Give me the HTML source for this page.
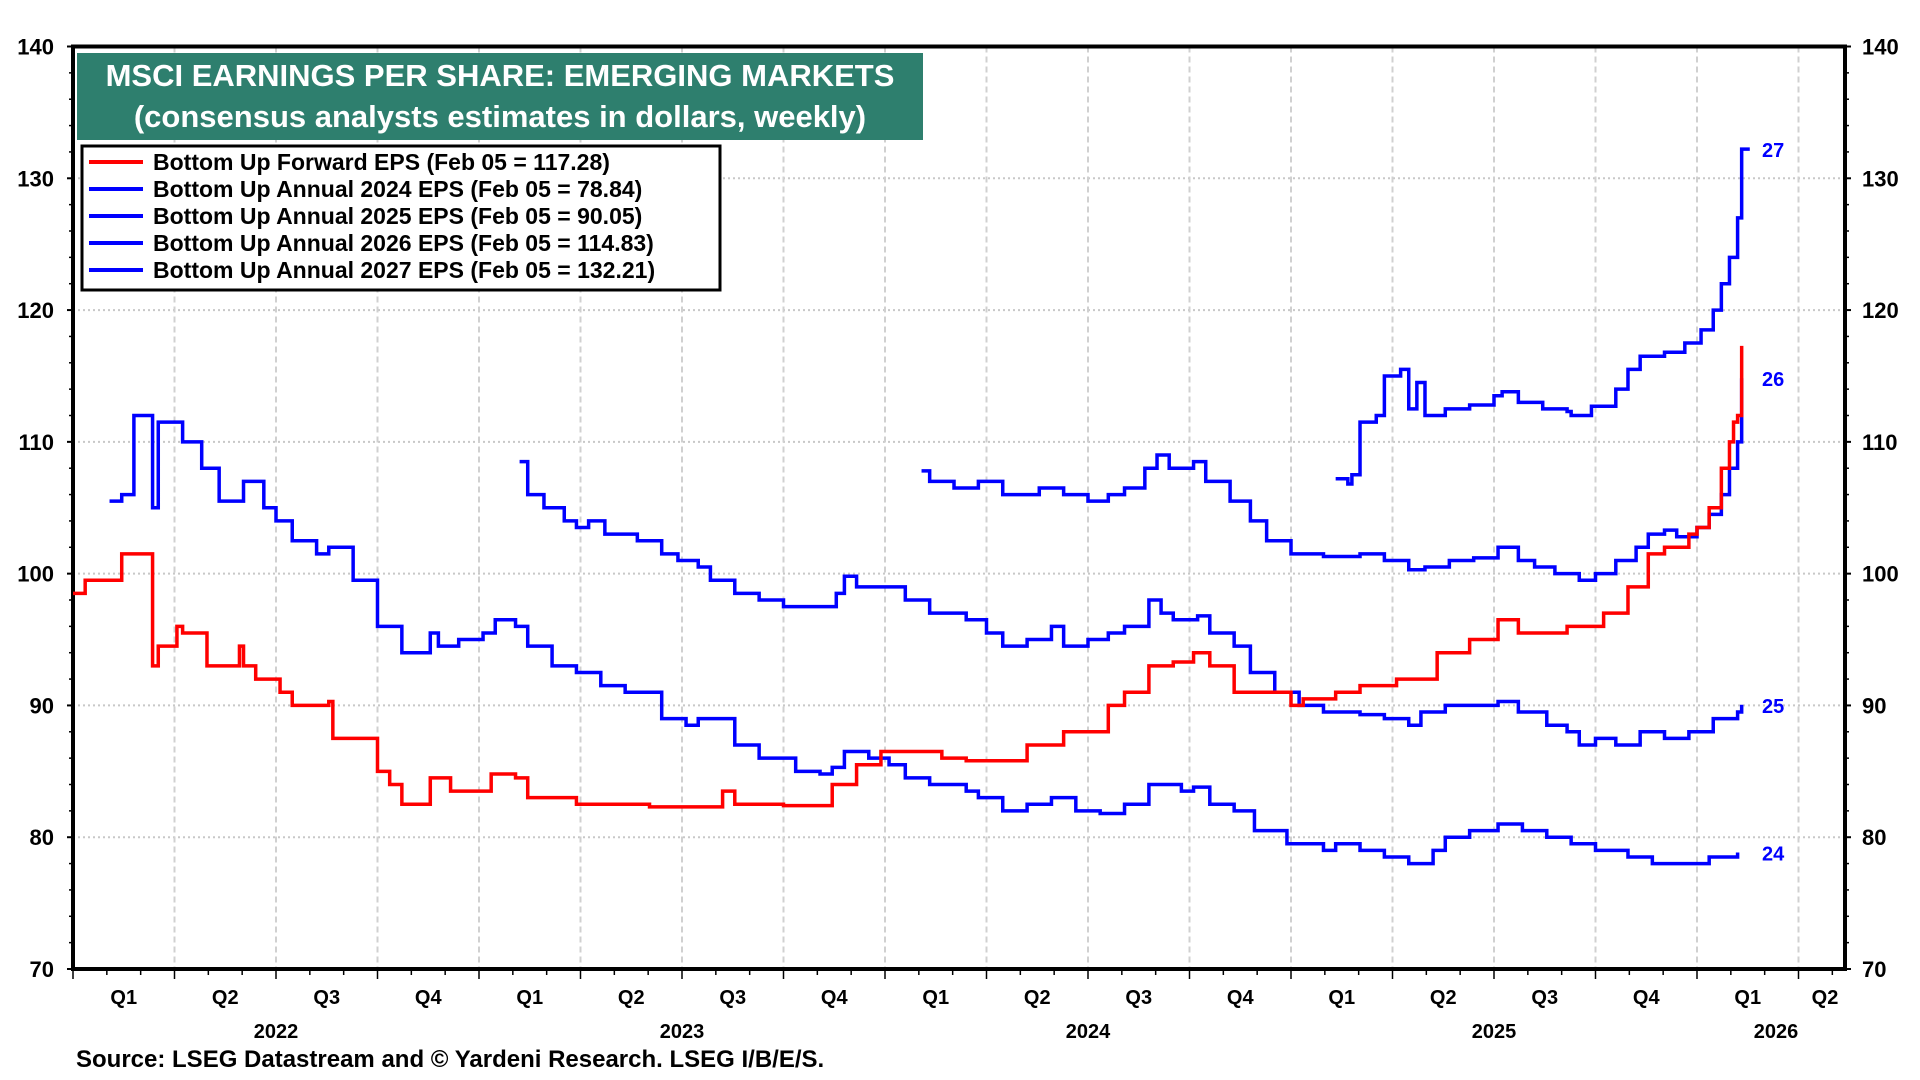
<!DOCTYPE html>
<html><head><meta charset="utf-8"><style>
body{margin:0;background:#fff;}
svg{display:block;font-family:"Liberation Sans",Arial,sans-serif;font-weight:bold;}
</style></head><body>
<svg id="chart" width="1920" height="1080" viewBox="0 0 1920 1080">
<g id="grid"></g>
<g id="axes"></g>
<g id="series"></g>
<g id="labels"></g>
<g>
<rect x="77" y="53" width="846" height="87" fill="#2e7f6e"/>
<text x="500" y="86" text-anchor="middle" font-size="31" fill="#fff">MSCI EARNINGS PER SHARE: EMERGING MARKETS</text>
<text x="500" y="127" text-anchor="middle" font-size="31" fill="#fff">(consensus analysts estimates in dollars, weekly)</text>
</g>
<g>
<rect x="82" y="146" width="638" height="144" fill="#fff" stroke="#000" stroke-width="3"/>
<g><line x1="89" y1="162" x2="143" y2="162" stroke="#ff0000" stroke-width="4"/><text x="153" y="170" font-size="23">Bottom Up Forward EPS (Feb 05 = 117.28)</text></g>
<g><line x1="89" y1="189" x2="143" y2="189" stroke="#0000ff" stroke-width="4"/><text x="153" y="197" font-size="23">Bottom Up Annual 2024 EPS (Feb 05 = 78.84)</text></g>
<g><line x1="89" y1="216" x2="143" y2="216" stroke="#0000ff" stroke-width="4"/><text x="153" y="224" font-size="23">Bottom Up Annual 2025 EPS (Feb 05 = 90.05)</text></g>
<g><line x1="89" y1="243" x2="143" y2="243" stroke="#0000ff" stroke-width="4"/><text x="153" y="251" font-size="23">Bottom Up Annual 2026 EPS (Feb 05 = 114.83)</text></g>
<g><line x1="89" y1="270" x2="143" y2="270" stroke="#0000ff" stroke-width="4"/><text x="153" y="278" font-size="23">Bottom Up Annual 2027 EPS (Feb 05 = 132.21)</text></g>
</g>
<text x="76" y="1067" font-size="24">Source: LSEG Datastream and © Yardeni Research. LSEG I/B/E/S.</text>
</svg>
<script>
const yTicks=[70,80,90,100,110,120,130,140];
const quarterLabels=["Q1","Q2","Q3","Q4"];
const years=[2022,2023,2024,2025,2026];

const fwdT=[2022.0,2022.03,2022.12,2022.18,2022.196,2022.21,2022.256,2022.27,2022.33,2022.41,2022.42,2022.45,2022.51,2022.54,2022.63,2022.64,2022.69,2022.75,2022.78,2022.81,2022.88,2022.93,2023.03,2023.04,2023.09,2023.12,2023.15,2023.24,2023.30,2023.42,2023.45,2023.60,2023.63,2023.75,2023.76,2023.87,2023.93,2023.99,2024.05,2024.14,2024.20,2024.32,2024.35,2024.44,2024.50,2024.55,2024.59,2024.65,2024.71,2024.76,2024.80,2024.86,2024.93,2025.00,2025.03,2025.09,2025.11,2025.17,2025.26,2025.32,2025.36,2025.44,2025.51,2025.56,2025.62,2025.68,2025.74,2025.77,2025.83,2025.88,2025.92,2025.98,2026.0,2026.03,2026.06,2026.08,2026.09,2026.10,2026.11];
const fwdV=[98.5,99.5,101.5,101.5,93,94.5,96,95.5,93,94.5,93,92,91,90,90.3,87.5,87.5,85,84,82.5,84.5,83.5,84.8,84.8,84.5,83,83,82.5,82.5,82.3,82.3,83.5,82.5,82.4,82.4,84,85.5,86.5,86.5,86,85.8,85.8,87,88,88,90,91,93,93.3,94,93,91,91,90,90.5,90.5,91,91.5,92,92,94,95,96.5,95.5,95.5,96,96,97,99,101.5,102,103,103.5,105,108,110,111.5,112,117.28];

const a24T=[2022.09,2022.12,2022.15,2022.18,2022.196,2022.21,2022.256,2022.27,2022.317,2022.36,2022.42,2022.47,2022.50,2022.54,2022.60,2022.63,2022.69,2022.75,2022.81,2022.88,2022.90,2022.95,2023.01,2023.04,2023.09,2023.12,2023.18,2023.24,2023.30,2023.36,2023.45,2023.51,2023.54,2023.63,2023.69,2023.78,2023.84,2023.87,2023.90,2023.96,2024.01,2024.05,2024.11,2024.20,2024.23,2024.29,2024.35,2024.41,2024.47,2024.53,2024.59,2024.65,2024.70,2024.73,2024.76,2024.80,2024.86,2024.91,2024.99,2025.08,2025.11,2025.17,2025.23,2025.29,2025.35,2025.38,2025.44,2025.51,2025.57,2025.63,2025.69,2025.75,2025.83,2025.89,2025.98,2026.03,2026.10];
const a24V=[105.5,106,112,112,105,111.5,111.5,110,108,105.5,107,105,104,102.5,101.5,102,99.5,96,94,95.5,94.5,95,95.5,96.5,96,94.5,93,92.5,91.5,91,89,88.5,89,87,86,85,84.8,85.3,86.5,86,85.5,84.5,84,83.5,83,82,82.5,83,82,81.8,82.5,84,84,83.5,83.8,82.5,82,80.5,79.5,79,79.5,79,78.5,78,79,80,80.5,81,80.5,80,79.5,79,78.5,78,78,78.5,78.84];

const a25T=[2023.10,2023.12,2023.16,2023.21,2023.24,2023.27,2023.31,2023.39,2023.45,2023.49,2023.54,2023.57,2023.63,2023.69,2023.75,2023.84,2023.88,2023.90,2023.93,2023.99,2024.05,2024.11,2024.20,2024.25,2024.29,2024.35,2024.41,2024.44,2024.50,2024.55,2024.59,2024.65,2024.68,2024.71,2024.77,2024.80,2024.86,2024.90,2024.96,2025.02,2025.08,2025.17,2025.23,2025.29,2025.32,2025.38,2025.44,2025.51,2025.56,2025.63,2025.68,2025.71,2025.75,2025.80,2025.86,2025.92,2025.98,2026.04,2026.10,2026.11];
const a25V=[108.5,106,105,104,103.5,104,103,102.5,101.5,101,100.5,99.5,98.5,98,97.5,97.5,98.5,99.8,99,99,98,97,96.5,95.5,94.5,95,96,94.5,95,95.5,96,98,97,96.5,96.8,95.5,94.5,92.5,91,90,89.5,89.3,89,88.5,89.5,90,90,90.3,89.5,88.5,88,87,87.5,87,88,87.5,88,89,89.5,90.05];

const a26T=[2024.09,2024.11,2024.17,2024.23,2024.29,2024.38,2024.44,2024.50,2024.55,2024.59,2024.64,2024.67,2024.70,2024.76,2024.79,2024.85,2024.90,2024.94,2025.00,2025.08,2025.17,2025.23,2025.29,2025.33,2025.39,2025.45,2025.51,2025.56,2025.60,2025.65,2025.71,2025.75,2025.80,2025.85,2025.88,2025.92,2025.95,2026.00,2026.03,2026.06,2026.08,2026.10,2026.11];
const a26V=[107.8,107,106.5,107,106,106.5,106,105.5,106,106.5,108,109,108,108.5,107,105.5,104,102.5,101.5,101.3,101.5,101,100.3,100.5,101,101.2,102,101,100.5,100,99.5,100,101,102,103,103.3,102.8,103.5,104.5,106,108,110,114.83];

const a27T=[2025.11,2025.14,2025.15,2025.17,2025.21,2025.23,2025.27,2025.29,2025.31,2025.33,2025.38,2025.44,2025.50,2025.52,2025.56,2025.62,2025.68,2025.69,2025.74,2025.80,2025.83,2025.86,2025.92,2025.97,2026.01,2026.04,2026.06,2026.08,2026.10,2026.11,2026.13];
const a27V=[107.2,106.8,107.5,111.5,112,115,115.5,112.5,114.5,112,112.5,112.8,113.5,113.8,113,112.5,112.3,112,112.7,114,115.5,116.5,116.8,117.5,118.5,120,122,124,127,132.21,132.21];

const X0=73,X1=1845,Y0=969,Y1=46.5;
const xS=t=>X0+(t-2022)*406;
const yS=v=>Y0-(v-70)*(Y0-Y1)/70;
const NS="http://www.w3.org/2000/svg";
function mk(tag,attrs,parent){const e=document.createElementNS(NS,tag);for(const k in attrs)e.setAttribute(k,attrs[k]);parent.appendChild(e);return e;}
const grid=document.getElementById('grid'),axes=document.getElementById('axes'),ser=document.getElementById('series'),lab=document.getElementById('labels');

yTicks.forEach(v=>{
  if(v>70&&v<140){const g=mk('line',{x1:X0,x2:X1,y1:yS(v),y2:yS(v),stroke:'#c8c8c8','stroke-width':2,'stroke-dasharray':'2,3'},grid);
  
  }
  const l=mk('text',{x:54,y:yS(v)+8,'text-anchor':'end','font-size':22},lab);l.textContent=v;
  
  
  const r=mk('text',{x:1862,y:yS(v)+8,'font-size':22},lab);r.textContent=v;
  
  
  mk('line',{x1:X0-6,x2:X0,y1:yS(v),y2:yS(v),stroke:'#000','stroke-width':2},axes);
  mk('line',{x1:X1,x2:X1+6,y1:yS(v),y2:yS(v),stroke:'#000','stroke-width':2},axes);
});
for(let v=72;v<140;v+=2){if(v%10){mk('line',{x1:X0-4,x2:X0,y1:yS(v),y2:yS(v),stroke:'#000','stroke-width':1.5},axes);mk('line',{x1:X1,x2:X1+4,y1:yS(v),y2:yS(v),stroke:'#000','stroke-width':1.5},axes);}}
for(let m=0;m<53;m++){const t=2022+m/12;const x=xS(t);if(x>X1)break;
  const q=m%3===0;
  mk('line',{x1:x,x2:x,y1:Y0,y2:Y0+(q?10:6),stroke:'#000','stroke-width':1.5},axes);
  if(q&&m>0){const g=mk('line',{x1:x,x2:x,y1:Y1,y2:Y0,stroke:'#d0d0d0','stroke-width':2,'stroke-dasharray':'6,4'},grid);
    
    }
}
for(let qi=0;qi<18;qi++){const t=2022+qi/4+0.125;let x=xS(t);if(qi===17)x=1825;
  const e=mk('text',{x:x,y:1004,'text-anchor':'middle','font-size':20},lab);e.textContent=quarterLabels[qi%4];
  
  }
years.forEach(yr=>{let x=xS(yr+0.5);if(yr===2026)x=1776;
  const e=mk('text',{x:x,y:1038,'text-anchor':'middle','font-size':20},lab);e.textContent=yr;
  
  });
mk('rect',{x:X0,y:Y1,width:X1-X0,height:Y0-Y1,fill:'none',stroke:'#000','stroke-width':4},axes);

function step(T,V,color,name){let d='';for(let i=0;i<T.length;i++){const x=xS(T[i]),y=yS(V[i]);
  if(i===0)d+='M'+x+','+y;else d+='H'+x+'V'+y;}
  const p=mk('path',{d:d,fill:'none',stroke:color,'stroke-width':3.5,'stroke-linejoin':'miter'},ser);
  
  }
step(a24T,a24V,'#0000ff','line-annual-2024');
step(a25T,a25V,'#0000ff','line-annual-2025');
step(a26T,a26V,'#0000ff','line-annual-2026');
step(a27T,a27V,'#0000ff','line-annual-2027');
step(fwdT,fwdV,'#ff0000','line-forward-eps');
[[a24V,'24'],[a25V,'25'],[a26V,'26'],[a27V,'27']].forEach(([V,s])=>{
  const e=mk('text',{x:1762,y:yS(V[V.length-1])+8,'font-size':20,fill:'#0000ff'},lab);e.textContent=s;
  
  });
</script>
</body></html>
